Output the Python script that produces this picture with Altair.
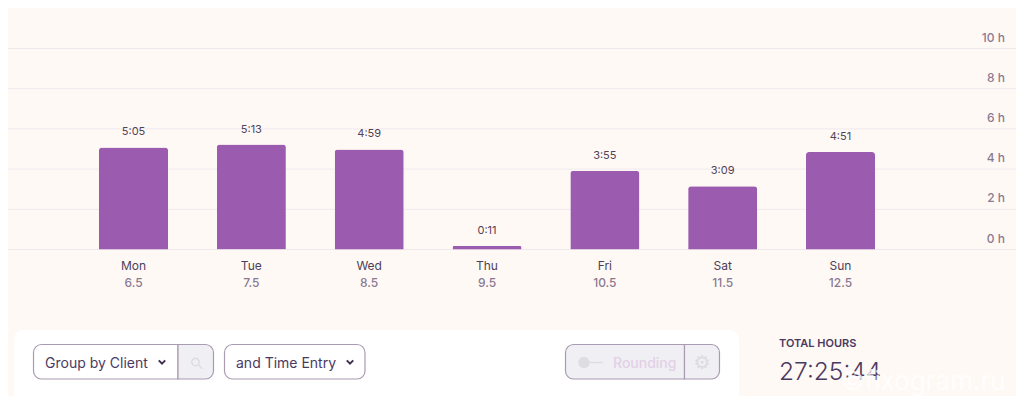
import altair as alt

days = ["Mon", "Tue", "Wed", "Thu", "Fri", "Sat", "Sun"]
hours = [5.08, 5.22, 4.98, 0.18, 3.92, 3.15, 4.85]
durations = ["5:05", "5:13", "4:59", "0:11", "3:55", "3:09", "4:51"]
dates = ["6.5", "7.5", "8.5", "9.5", "10.5", "11.5", "12.5"]
ticks = [0, 2, 4, 6, 8, 10]

FONT = "Inter"
BG = "#fff9f6"
W, H = 1008, 388
OFF = 8  # page margin


def px(v):
    return alt.value(v - OFF)


one = alt.Data(values=[{"a": 1}])
bars_data = alt.Data(values=[
    {"day": d, "hours": h, "dur": t, "date": c}
    for d, h, t, c in zip(days, hours, durations, dates)
])
tick_data = alt.Data(values=[{"t": t, "label": f"{t} h"} for t in ticks])

x_enc = alt.X("day:N", sort=days, axis=None,
              scale=alt.Scale(range=[66.6, 891.4], paddingInner=0.414, paddingOuter=0.207))
y_scale = alt.Scale(domain=[0, 10], range=[241.5, 40.5])
y_enc = alt.Y("hours:Q", axis=None, scale=y_scale)

grid = alt.Chart(tick_data).mark_rule(color="#efe9ee", strokeWidth=1).encode(
    y=alt.Y("t:Q", axis=None, scale=y_scale), x=alt.value(0), x2=alt.value(W))
tick_labels = alt.Chart(tick_data).mark_text(
    font=FONT, fontSize=12, fontWeight=500, color="#8a7a90", align="right", baseline="middle", dy=-11
).encode(y=alt.Y("t:Q", axis=None, scale=y_scale), x=px(1005), text="label:N")

bars = alt.Chart(bars_data).mark_bar(
    color="#9b5cb0", cornerRadiusTopLeft=3, cornerRadiusTopRight=3
).encode(x=x_enc, y=y_enc)
bar_labels = alt.Chart(bars_data).mark_text(
    font=FONT, fontSize=11, color="#4f4358", baseline="middle", dy=-15
).encode(x=x_enc, y=y_enc, text="dur:N")
day_labels = alt.Chart(bars_data).mark_text(
    font=FONT, fontSize=12, color="#4b3f58", baseline="middle"
).encode(x=x_enc, y=px(265.5), text="day:N")
date_labels = alt.Chart(bars_data).mark_text(
    font=FONT, fontSize=12, fontWeight=500, color="#8a7a90", baseline="middle"
).encode(x=x_enc, y=px(283), text="date:N")


def box(x0, y0, x1, y1, fill, stroke=None, **radius):
    kw = dict(radius)
    if stroke:
        kw.update(stroke=stroke, strokeWidth=1.2)
    return alt.Chart(one).mark_rect(color=fill, **kw).encode(
        x=px(x0), x2=px(x1), y=px(y0), y2=px(y1))


def label(x, y, s, size=14, color="#4b3a5f", weight=400, align="left", **kw):
    return alt.Chart(one).mark_text(
        text=s, font=kw.pop("font", FONT), fontSize=size, color=color, fontWeight=weight,
        align=align, baseline="middle", **kw
    ).encode(x=px(x), y=px(y))


def glyph(x, y, shape, size, stroke=None, fill=None, width=1.6):
    kw = dict(shape=shape, size=size, opacity=1)
    if stroke:
        kw.update(stroke=stroke, strokeWidth=width)
    kw.update(filled=bool(fill))
    if fill:
        kw.update(fill=fill)
    return alt.Chart(one).mark_point(**kw).encode(x=px(x), y=px(y))


EDGE = "#a99bb2"
GREY = "#f0eff3"
CHEV = "M-1,-0.5 L0,0.5 L1,-0.5"

panel = [
    box(14, 330, 739, 420, "#ffffff", cornerRadius=9),
    # Group by Client
    box(33.5, 344.5, 178, 379, "#ffffff", EDGE, cornerRadiusTopLeft=8, cornerRadiusBottomLeft=8),
    box(178, 344.5, 213.5, 379, GREY, EDGE, cornerRadiusTopRight=8, cornerRadiusBottomRight=8),
    label(45, 364, "Group by Client"),
    glyph(162, 362, CHEV, 42, stroke="#3f3050", width=2),
    glyph(195.5, 362, "circle", 55, stroke="#dcdbe0", width=1.4),
    glyph(200.5, 367, "M-1,-1 L1,1", 12, stroke="#dcdbe0", width=1.5),
    # and Time Entry
    box(224.5, 344.5, 365, 379, "#ffffff", EDGE, cornerRadius=8),
    label(236, 364, "and Time Entry"),
    glyph(350, 362, CHEV, 42, stroke="#3f3050", width=2),
    # Rounding
    box(565.5, 344.5, 684.5, 379, GREY, EDGE, cornerRadiusTopLeft=8, cornerRadiusBottomLeft=8),
    box(684.5, 344.5, 719.5, 379, GREY, EDGE, cornerRadiusTopRight=8, cornerRadiusBottomRight=8),
    glyph(593, 362.5, "M-1,0 L1,0", 400, stroke="#dcdbe0", width=1.3),
    glyph(584, 362.5, "circle", 130, fill="#dedde2"),
    label(613, 364, "Rounding", color="#e3d0e8", weight=500),
    label(702, 362.5, "\u2699", size=19, color="#dcdbe0", align="center", font="DejaVu Sans"),
    # Totals
    label(779, 344, "TOTAL HOURS", size=11, weight=600, color="#4b3a5f"),
    label(779, 372.5, "27:25:44", size=24.5, weight=300, color="#4b3a5f"),
    label(841, 382, "\u00a9fixogram.ru", size=26, color="#ffffff", opacity=0.8),
]

chart = alt.layer(
    grid, tick_labels, bars, bar_labels, day_labels, date_labels, *panel
).properties(
    width=W, height=H, padding=0, autosize="none", background=BG
).configure_view(stroke=None)

chart.save("out.html", embed_options={"renderer": "svg", "actions": False})
